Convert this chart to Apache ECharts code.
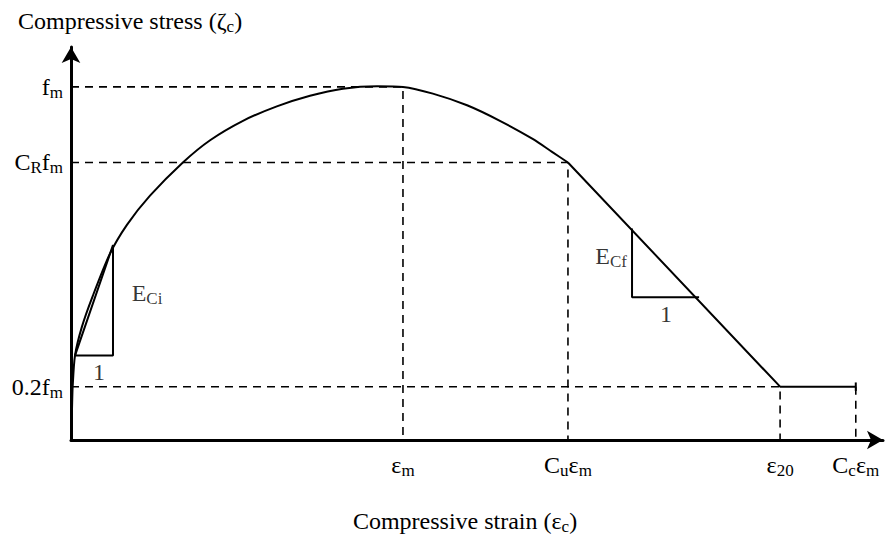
<!DOCTYPE html>
<html>
<head>
    <meta charset="utf-8">
    <title>Compressive stress-strain</title>
    <script src="https://cdn.jsdelivr.net/npm/echarts@6/dist/echarts.min.js"></script>
</head>
<body style="margin:0;background:#fff;">
<div id="main" style="width:885px;height:540px;"></div>

<script type="text/javascript">
    // 曲线数据 (strain normalised by εm, stress normalised by fm)
    var curveStrain = [0, 0.003, 0.005, 0.012, 0.033, 0.066, 0.117, 0.169, 0.238, 0.337, 0.419, 0.518, 0.620, 0.720, 0.819, 0.922, 1.0, 1.090, 1.193, 1.292, 1.392, 1.449, 1.497];
    var curveStress = [0, 0.088, 0.151, 0.239, 0.321, 0.409, 0.527, 0.610, 0.692, 0.786, 0.849, 0.904, 0.945, 0.975, 0.995, 1.002, 1.0, 0.981, 0.948, 0.904, 0.852, 0.816, 0.786];
    // linear softening branch + residual plateau
    var softStrain = [1.497, 2.136, 2.364];
    var softStress = [0.786, 0.151, 0.151];

    // axis marks
    var strainMarks = [1, 1.497, 2.136, 2.364];
    var strainLabels = ['{t|ε}{s|m}', '{t|C}{s|u}{t|ε}{s|m}', '{t|ε}{s|20}', '{t|C}{s|c}{t|ε}{s|m}'];
    var stressMarks = [0.151, 0.786, 1];
    var stressLabels = ['{t|0.2f}{s|m}', '{t|C}{s|R}{t|f}{s|m}', '{t|f}{s|m}'];

    // slope triangles
    var eciStrain = [0.012, 0.1265, 0.1265, 0.012];
    var eciStress = [0.239, 0.239, 0.552, 0.239];
    var ecfStrain = [1.690, 1.690, 1.892];
    var ecfStress = [0.599, 0.404, 0.404];

    // annotations
    var noteText = ['{t|E}{s|Ci}', '{t|1}', '{t|E}{s|Cf}', '{t|1}'];
    var noteStrain = [0.229, 0.084, 1.627, 1.792];
    var noteStress = [0.415, 0.192, 0.522, 0.357];

    var FONT = '"Liberation Serif", "DejaVu Serif", serif';
    var rich = {
        t: { fontFamily: FONT, fontSize: 24, fontWeight: 'normal', color: '#000', lineHeight: 26 },
        s: { fontFamily: FONT, fontSize: 17, fontWeight: 'normal', color: '#000', lineHeight: 17, padding: [11, 0, 0, 0] }
    };

    var zip = function (xs, ys) {
        var out = [];
        for (var i = 0; i < xs.length; i++) out.push([xs[i], ys[i]]);
        return out;
    };

    var solid = function (name, xs, ys, smooth) {
        return {
            name: name, type: 'line', data: zip(xs, ys), smooth: smooth || false,
            symbol: 'none', lineStyle: { color: '#000', width: 2 }, z: 5, animation: false
        };
    };
    var dashed = function (data) {
        return {
            type: 'line', data: data, symbol: 'none', z: 3, animation: false,
            lineStyle: { color: '#000', width: 1.6, type: [8, 6] }
        };
    };

    var series = [];
    // dashed guides: stress level to strain mark, then down to the axis
    series.push(dashed([[0, stressMarks[2]], [strainMarks[0], stressMarks[2]], [strainMarks[0], 0]]));
    series.push(dashed([[0, stressMarks[1]], [strainMarks[1], stressMarks[1]], [strainMarks[1], 0]]));
    series.push(dashed([[0, stressMarks[0]], [strainMarks[2], stressMarks[0]], [strainMarks[2], 0]]));
    series.push(dashed([[strainMarks[3], stressMarks[0]], [strainMarks[3], 0]]));

    series.push(solid('curve', curveStrain, curveStress, 0.25));
    series.push(solid('soft', softStrain, softStress));
    series.push(solid('end', [strainMarks[3], strainMarks[3]], [stressMarks[0] - 0.012, stressMarks[0] + 0.012]));
    series.push(solid('eci', eciStrain, eciStress));
    series.push(solid('ecf', ecfStrain, ecfStress));

    series.push({
        type: 'scatter', symbolSize: 0, animation: false, z: 6,
        data: zip(noteStrain, noteStress).map(function (p, i) { return { value: p, txt: noteText[i] }; }),
        label: {
            show: true, position: 'inside',
            formatter: function (p) { return p.data.txt; },
            rich: rich
        }
    });

    var chart = echarts.init(document.getElementById('main'), null, { renderer: 'svg' });
    chart.setOption({
        backgroundColor: '#fff',
        title: {
            text: '{t|Compressive stress (ζ}{s|c}{t|)}',
            left: 13, top: 3,
            textStyle: { fontWeight: 'normal', rich: rich }
        },
        grid: { left: 71, right: 2, top: 47, bottom: 88 },
        xAxis: {
            type: 'value', min: 0, max: 2.446,
            name: '{t|Compressive strain (ε}{s|c}{t|)}',
            nameLocation: 'middle', nameGap: 68,
            nameTextStyle: { rich: rich, padding: [0, 24, 0, 0] },
            splitLine: { show: false },
            axisTick: { show: false },
            axisLine: { lineStyle: { color: '#000', width: 3 }, symbol: ['none', 'arrow'], symbolSize: [14, 16] },
            axisLabel: {
                customValues: strainMarks, margin: 12,
                formatter: function (v) { return strainLabels[strainMarks.indexOf(v)]; },
                rich: rich
            }
        },
        yAxis: {
            type: 'value', min: 0, max: 1.113,
            splitLine: { show: false },
            axisTick: { show: false },
            axisLine: { lineStyle: { color: '#000', width: 3 }, symbol: ['none', 'arrow'], symbolSize: [14, 16] },
            axisLabel: {
                customValues: stressMarks, margin: 8,
                formatter: function (v) { return stressLabels[stressMarks.indexOf(v)]; },
                rich: rich
            }
        },
        series: series
    });
</script>
</body>
</html>
